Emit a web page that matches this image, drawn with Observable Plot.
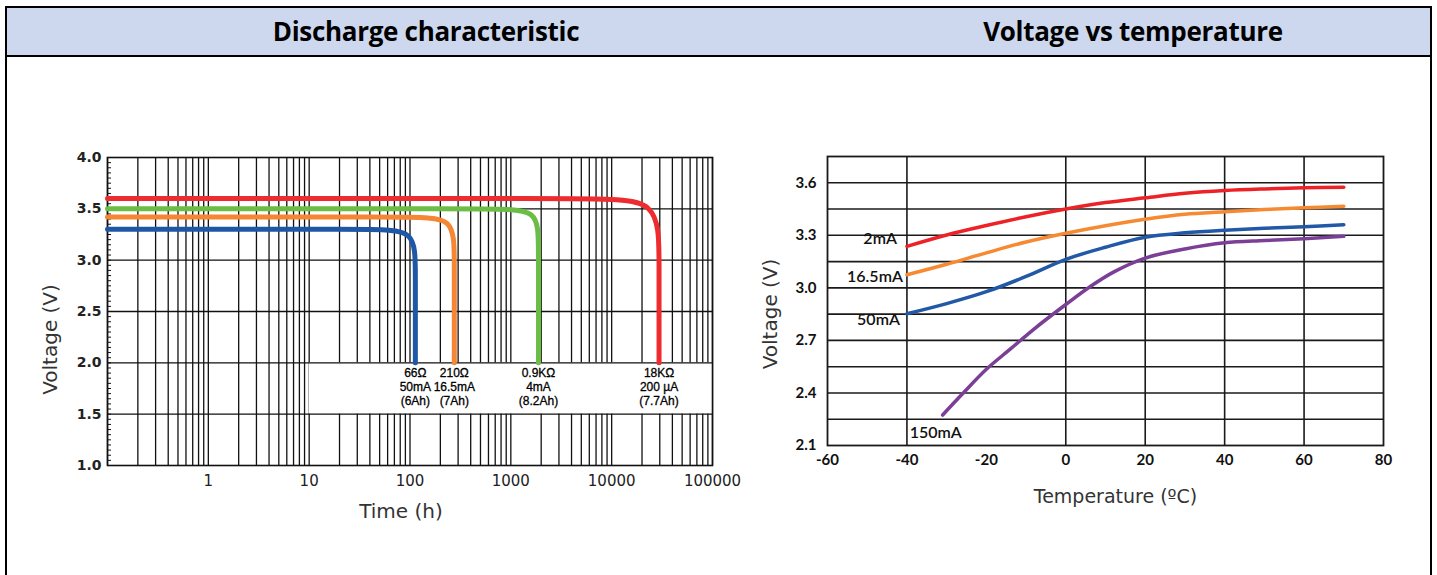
<!DOCTYPE html>
<html>
<head>
<meta charset="utf-8">
<script src="https://cdn.jsdelivr.net/npm/d3@7"></script>
<script src="https://cdn.jsdelivr.net/npm/@observablehq/plot@0.6"></script>
<style>
  html, body { margin: 0; padding: 0; background: #fff; }
  #box { position: absolute; left: 5px; top: 6px; width: 1427px; height: 640px; border: 2px solid #000; box-sizing: border-box; }
  #bar { position: absolute; left: 0; top: 0; right: 0; height: 47px; background: #cdd8ef; border-bottom: 2px solid #000; }
  .title { position: absolute; top: 0; height: 47px; font: bold 26px "Open Sans", Lato, sans-serif; line-height: 47px; text-align: center; color: #000; letter-spacing: -0.3px; }
  #left { position: absolute; left: 0; top: 100px; }
  #right { position: absolute; left: 720px; top: 100px; }
  svg { overflow: visible; }
</style>
</head>
<body>
<div id="box">
  <div id="bar">
    <div class="title" style="left:0;width:838px;">Discharge characteristic</div>
    <div class="title" style="left:826px;width:600px;">Voltage vs temperature</div>
  </div>
</div>
<div id="left"></div>
<div id="right"></div>
<script>
// ---------- Discharge characteristic ----------
const dischargeLoads = ["66Ω\n50mA\n(6Ah)", "210Ω\n16.5mA\n(7Ah)", "0.9KΩ\n4mA\n(8.2Ah)", "18KΩ\n200 µA\n(7.7Ah)"];
const dischargeColors = ["#1f57a7", "#f58634", "#6bbd45", "#ee2b2f"];
const plateauV = [3.30, 3.42, 3.50, 3.60];   // flat voltage
const bendT = [43, 110, 675, 6740];           // hours where the knee begins
const dropT = [113, 275, 1880, 29500];        // hours of the vertical drop
const bendV = [2.91, 3.02, 3.15, 3.02];       // voltage where the drop is vertical
const startT = 0.1;
const endV = 2.0;
const timeTickLabels = [1, 10, 100, 1000, 10000, 100000];
const voltTicksL = [1.0, 1.5, 2.0, 2.5, 3.0, 3.5, 4.0];
const voltGridL = [1.5, 2.0, 2.5, 3.0, 3.5];

// ---------- Voltage vs temperature ----------
const tempSeries = ["2mA", "16.5mA", "50mA", "150mA"];
const tempColors = ["#ed2227", "#f68a33", "#2159a7", "#7b3f97"];
const tempA = [-40, -30, -20, -10, 0, 10, 20, 30, 40, 50, 60, 70];
const volt2mA = [3.237, 3.302, 3.356, 3.406, 3.450, 3.487, 3.514, 3.540, 3.556, 3.565, 3.571, 3.575];
const volt16mA = [3.075, 3.135, 3.200, 3.262, 3.312, 3.355, 3.392, 3.420, 3.434, 3.447, 3.457, 3.466];
const volt50mA = [2.852, 2.910, 2.978, 3.065, 3.163, 3.232, 3.289, 3.314, 3.329, 3.340, 3.349, 3.361];
const temp150 = [-31, -26, -20, -14, -8, 0, 6, 12, 20, 30, 40, 50, 60, 70];
const volt150mA = [2.274, 2.395, 2.535, 2.650, 2.765, 2.905, 3.005, 3.090, 3.170, 3.222, 3.257, 3.270, 3.281, 3.294];
const tempTicks = [-60, -40, -20, 0, 20, 40, 60, 80];
const tempGrid = [-40, 0, 20, 40, 60];
const voltTicksR = [2.1, 2.4, 2.7, 3.0, 3.3, 3.6];

// ---------- derived tables ----------
const timeGrid = d3.range(-1, 5).flatMap(e => d3.range(1, 10).map(k => k * Math.pow(10, e))).concat([100000]);
const minorTicksL = d3.range(0, 61).map(i => 1 + i * 0.05);
const dischargeRows = dischargeLoads.flatMap((load, i) =>
  [[startT, plateauV[i]], [bendT[i], plateauV[i]], [dropT[i], plateauV[i]], [dropT[i], bendV[i]], [dropT[i], endV]]
    .map(([t, v]) => ({load, t, v})));
const dischargeEnds = dischargeLoads.map((load, i) => ({load, t: dropT[i], v: endV}));

const sansL = "'DejaVu Sans', Verdana, sans-serif";
const narrow = "'Liberation Sans Narrow', 'Liberation Sans', Arial, sans-serif";

const left = Plot.plot({
  width: 760, height: 440,
  marginLeft: 107, marginRight: 48, marginTop: 57, marginBottom: 75,
  style: {fontFamily: sansL, fontSize: "15px", color: "#222", background: "transparent"},
  x: {type: "log", domain: [0.1, 100000]},
  y: {domain: [1, 4]},
  color: {domain: dischargeLoads, range: dischargeColors},
  marks: [
    Plot.ruleX(timeGrid, {stroke: "#111", strokeWidth: 1.3}),
    Plot.rect([{x1: 10, x2: 100000, y1: 1.5, y2: 2.0}], {x1: "x1", x2: "x2", y1: "y1", y2: "y2", fill: "white"}),
    Plot.ruleY(voltGridL, {stroke: "#111", strokeWidth: 1.3}),
    Plot.frame({stroke: "#111", strokeWidth: 1.6}),
    Plot.axisY({ticks: minorTicksL, tickSize: 4, dx: 4, text: null, label: null, stroke: "#111"}),
    Plot.line(dischargeRows, {x: "t", y: "v", z: "load", stroke: "load", strokeWidth: 5, curve: "basis", strokeLinecap: "round"}),
    Plot.text(dischargeEnds, {x: "t", y: "v", text: "load", lineAnchor: "top", dy: 4, fontSize: 12, lineHeight: 1.17, fill: "#000", fontFamily: narrow, stroke: "#000", strokeWidth: 0.3}),
    Plot.axisX({ticks: timeTickLabels, tickFormat: d3.format("d"), tickSize: 0, tickPadding: 10, label: null, fontSize: 15, fill: "#222"}),
    Plot.axisY({ticks: voltTicksL, tickFormat: d3.format(".1f"), tickSize: 0, tickPadding: 6, label: null, fontSize: 14, fontWeight: "bold", fill: "#222"}),
    Plot.text(["Time (h)"], {frameAnchor: "bottom", textAnchor: "middle", lineAnchor: "middle", dy: 46, dx: -9, fontSize: 20, fill: "#333", fontFamily: sansL}),
    Plot.text(["Voltage (V)"], {frameAnchor: "left", textAnchor: "middle", lineAnchor: "middle", rotate: -90, dx: -57, dy: 28, fontSize: 20, fill: "#333", fontFamily: sansL})
  ]
});
document.getElementById("left").appendChild(left);

const tempRows = [
  ...tempA.map((t, j) => ({s: tempSeries[0], t, v: volt2mA[j]})),
  ...tempA.map((t, j) => ({s: tempSeries[1], t, v: volt16mA[j]})),
  ...tempA.map((t, j) => ({s: tempSeries[2], t, v: volt50mA[j]})),
  ...temp150.map((t, j) => ({s: tempSeries[3], t, v: volt150mA[j]}))
];
const firstOf = s => tempRows.find(r => r.s === s);
const labelFont = "Lato, 'Open Sans', sans-serif";

const right = Plot.plot({
  width: 700, height: 440,
  marginLeft: 107, marginRight: 37, marginTop: 56, marginBottom: 95,
  style: {fontFamily: labelFont, fontSize: "15px", color: "#111", background: "transparent"},
  x: {domain: [-60, 80]},
  y: {domain: [2.1, 3.75]},
  color: {domain: tempSeries, range: tempColors},
  marks: [
    Plot.ruleX(tempGrid, {stroke: "#1a1a1a", strokeWidth: 1.6}),
    Plot.ruleY(d3.range(1, 11).map(i => 2.1 + i * 0.15), {stroke: "#1a1a1a", strokeWidth: 1.6}),
    Plot.frame({stroke: "#1a1a1a", strokeWidth: 1.8}),
    Plot.line(tempRows, {x: "t", y: "v", z: "s", stroke: "s", strokeWidth: 3.5, curve: "catmull-rom", strokeLinecap: "round"}),
    Plot.text([firstOf("2mA")], {x: "t", y: "v", text: "s", textAnchor: "end", dx: -10, dy: -7, fontSize: 16, fontWeight: 600, fill: "#111"}),
    Plot.text([firstOf("16.5mA")], {x: "t", y: "v", text: "s", textAnchor: "end", dx: -4, dy: 2, fontSize: 16, fontWeight: 600, fill: "#111"}),
    Plot.text([firstOf("50mA")], {x: "t", y: "v", text: "s", textAnchor: "end", dx: -7, dy: 6, fontSize: 16, fontWeight: 600, fill: "#111"}),
    Plot.text([firstOf("150mA")], {x: "t", y: "v", text: "s", textAnchor: "start", dx: -33, dy: 18, fontSize: 16, fontWeight: 600, fill: "#111"}),
    Plot.axisX({ticks: tempTicks, tickFormat: d => String(d), tickSize: 0, tickPadding: 9, label: null, fontSize: 15, fontWeight: "bold", fill: "#111"}),
    Plot.axisY({ticks: voltTicksR, tickFormat: d3.format(".1f"), tickSize: 0, tickPadding: 11, label: null, fontSize: 15, fontWeight: "bold", fill: "#111"}),
    Plot.text(["Temperature (ºC)"], {frameAnchor: "bottom", textAnchor: "middle", lineAnchor: "middle", dy: 51, dx: 10, fontSize: 19, fill: "#333", fontFamily: sansL}),
    Plot.text(["Voltage (V)"], {frameAnchor: "left", textAnchor: "middle", lineAnchor: "middle", rotate: -90, dx: -57, dy: 13, fontSize: 20, fill: "#333", fontFamily: sansL})
  ]
});
document.getElementById("right").appendChild(right);
</script>
</body>
</html>
